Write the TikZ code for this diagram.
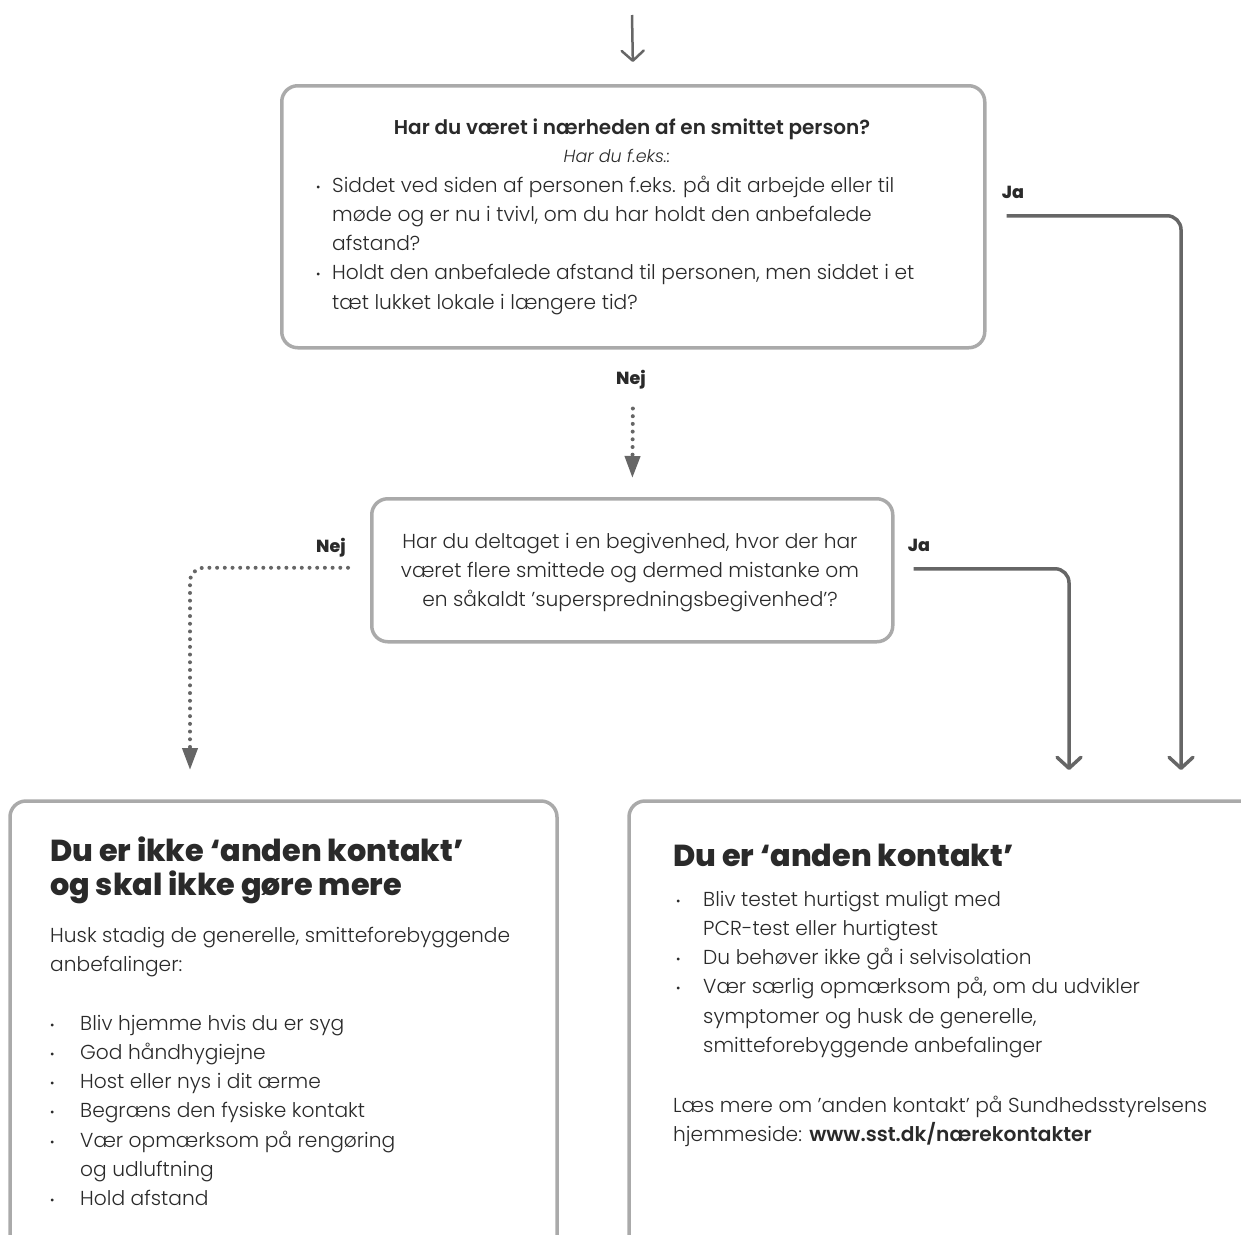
\documentclass[tikz,border=0pt]{standalone}
\usepackage{fontspec}
\setmainfont{Poppins Light}[BoldFont={Poppins SemiBold}, ItalicFont={Poppins Light Italic}]
\newfontfamily\heavyfont{Poppins ExtraBold}
\usetikzlibrary{arrows.meta}
\definecolor{boxgray}{HTML}{AAAAAA}
\definecolor{arrgray}{HTML}{666666}
\definecolor{txt}{HTML}{2A2A2A}
\newcommand\bl[1]{\makebox[#1][l]{{\fontsize{12}{12}\selectfont\raisebox{1pt}{•}}}}
\newcommand\ind[1]{\hspace*{#1}}
\begin{document}
\begin{tikzpicture}[x=1pt,y=-1pt,
  boxline/.style={draw=boxgray, line width=3.5pt, rounded corners=16pt},
  solidarr/.style={draw=arrgray, line width=3.5pt, rounded corners=14pt, -{Straight Barb[length=11pt,width=24pt,round]}},
  dotarr/.style={draw=arrgray, line width=4pt, line cap=round, dash pattern=on 0pt off 7.7pt, rounded corners=14pt, -{Triangle[length=22pt,width=15pt]}},
  lbl/.style={font=\heavyfont\fontsize{17.5}{17.5}\selectfont, text=txt, inner sep=0pt},
  body/.style={font=\fontsize{20.2}{29.3}\selectfont, text=txt, inner sep=0pt, align=left},
  head/.style={font=\heavyfont\fontsize{30.3}{34}\selectfont, text=txt, inner sep=0pt, align=left}]
\useasboundingbox (0,0) rectangle (1241,1234);
\clip (0,0) rectangle (1241,1234);

% boxes
\node[boxline, minimum width=703pt, minimum height=262pt, anchor=north west] (q1) at (280,84) {};
\node[boxline, minimum width=521pt, minimum height=143pt, anchor=north west] (q2) at (370,497) {};
\draw[boxline] (10,1260) -- (10,801) -- (557,801) -- (557,1260);
\draw[boxline] (629,1260) -- (629,801) -- (1262,801) -- (1262,1260);

% target coordinates
\coordinate (start) at (632,15);
\coordinate (lt) at (190,801);
\coordinate (rt1) at (1069,801);
\coordinate (rt2) at (1181,801);

% connectors
\draw[draw=arrgray, line width=2.5pt, -{Straight Barb[length=10pt,width=22pt,round]}, shorten >=22pt] (start) -- (q1.north);
\draw[dotarr, shorten <=59pt, shorten >=19pt] (q1.south) -- (q2.north);
\draw[solidarr, shorten >=31pt] ([xshift=20pt,yshift=1pt]q1.east) -| (rt2);
\draw[solidarr, shorten >=31pt] ([xshift=19pt,yshift=1.5pt]q2.east) -| (rt1);
\draw[dotarr, shorten <=2pt, shorten >=31pt] ([xshift=-20pt,yshift=2.5pt]q2.west) -| (lt);

% labels
\node[lbl, anchor=base] (ja1) at (1013,198) {Ja};
\node[lbl, anchor=base] (nej1) at (631,384) {Nej};
\node[lbl, anchor=base] (ja2) at (919,551) {Ja};
\node[lbl, anchor=base] (nej2) at (331,552) {Nej};

% box 1 text
\node[font=\bfseries\fontsize{20}{20}\selectfont, text=txt, inner sep=0pt, anchor=base] (t1) at (632,134) {Har du været i nærheden af en smittet person?};
\node[font=\itshape\fontsize{17.5}{17.5}\selectfont, text=txt, inner sep=0pt, anchor=base] (t2) at (617,162) {Har du f.eks.:};
\node[body, anchor=base west] (t3) at (316,309.2) {\bl{16pt}Siddet ved siden af personen f.eks. på dit arbejde eller til\\
\ind{16pt}møde og er nu i tvivl, om du har holdt den anbefalede\\
\ind{16pt}afstand?\\
\bl{16pt}Holdt den anbefalede afstand til personen, men siddet i et\\
\ind{16pt}tæt lukket lokale i længere tid?};

% box 2 text
\node[body, align=center, anchor=base] (t4) at (630,606.6) {Har du deltaget i en begivenhed, hvor der har\\
været flere smittede og dermed mistanke om\\
en såkaldt ’superspredningsbegivenhed’?};

% left box
\node[head, anchor=base west] (h1) at (50,895) {Du er ikke ‘anden kontakt’\\og skal ikke gøre mere};
\node[body, anchor=base west] (t5) at (50,971.3) {Husk stadig de generelle, smitteforebyggende\\anbefalinger:};
\node[body, anchor=base west] (t6) at (50,1205.8) {\bl{30pt}Bliv hjemme hvis du er syg\\
\bl{30pt}God håndhygiejne\\
\bl{30pt}Host eller nys i dit ærme\\
\bl{30pt}Begræns den fysiske kontakt\\
\bl{30pt}Vær opmærksom på rengøring\\
\ind{30pt}og udluftning\\
\bl{30pt}Hold afstand};

% right box
\node[head, anchor=base west] (h2) at (673,866) {Du er ‘anden kontakt’};
\node[body, anchor=base west] (t7) at (676,1052.5) {\bl{27pt}Bliv testet hurtigst muligt med\\
\ind{27pt}PCR-test eller hurtigtest\\
\bl{27pt}Du behøver ikke gå i selvisolation\\
\bl{27pt}Vær særlig opmærksom på, om du udvikler\\
\ind{27pt}symptomer og husk de generelle,\\
\ind{27pt}smitteforebyggende anbefalinger};
\node[body, anchor=base west] (t8) at (673,1141.3) {Læs mere om ’anden kontakt’ på Sundhedsstyrelsens\\hjemmeside: \textbf{www.sst.dk/nærekontakter}};
\end{tikzpicture}
\end{document}
